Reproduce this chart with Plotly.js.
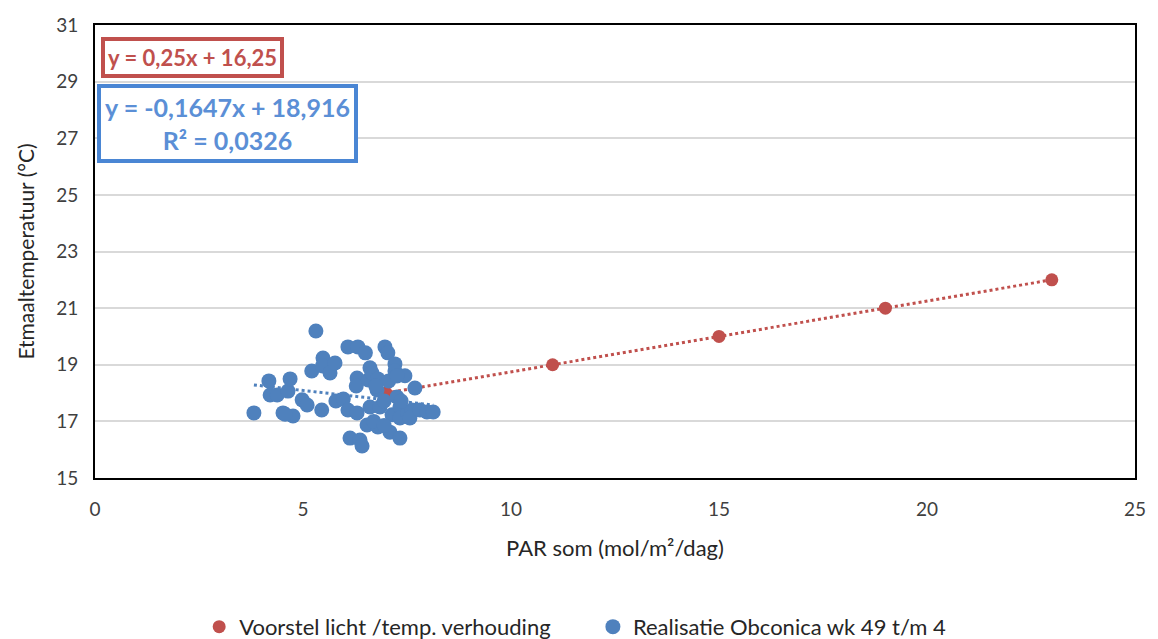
<!DOCTYPE html>
<html>
<head>
<meta charset="utf-8">
<script src="https://cdn.plot.ly/plotly-3.0.1.min.js"></script>
<style>html,body{margin:0;padding:0;background:#fff;}#chart{width:1158px;height:639px;}</style>
</head>
<body>
<div id="chart"></div>
<script>
// Voorstel licht/temp. verhouding
const voorstelX = [7, 11, 15, 19, 23];
const voorstelY = [18, 19, 20, 21, 22];

// Realisatie Obconica wk 49 t/m 4
const realX = [3.82, 4.18, 4.21, 4.38, 4.52, 4.64, 4.69, 4.76, 4.57, 4.98, 5.10, 5.21, 5.31, 5.48, 5.45, 5.47, 5.65, 5.77, 5.79, 5.97, 6.08, 6.08, 6.13, 6.30, 6.32, 6.30, 6.28, 6.37, 6.42, 6.50, 6.57, 6.61, 6.54, 6.61, 6.66, 6.78, 6.80, 6.85, 6.80, 6.95, 6.97, 7.04, 7.06, 7.09, 7.14, 7.21, 7.21, 7.26, 7.33, 7.33, 7.33, 7.45, 7.52, 7.62, 7.69, 7.57, 7.81, 7.98, 8.13, 6.75, 6.70, 7.36, 7.26, 6.95];
const realY = [17.30, 18.43, 17.93, 17.93, 17.30, 18.07, 18.50, 17.19, 17.25, 17.76, 17.58, 18.78, 20.19, 19.24, 17.40, 18.96, 18.71, 19.06, 17.72, 17.79, 19.63, 17.40, 16.41, 18.53, 19.63, 17.30, 18.25, 16.34, 16.13, 19.42, 18.46, 17.51, 16.87, 18.89, 18.71, 18.11, 18.50, 17.51, 16.80, 17.72, 19.63, 19.42, 18.43, 16.62, 17.23, 19.03, 18.78, 17.86, 16.41, 17.51, 17.12, 18.61, 17.30, 17.40, 18.18, 17.12, 17.40, 17.33, 17.33, 18.25, 17.00, 17.72, 18.60, 16.85];

const blueSlope = -0.1647, blueIntercept = 18.916;
const xMin = Math.min(...realX), xMax = Math.max(...realX);

const red = '#c0504d', blue = '#4f81bd';
const font = 'Lato, "Open Sans", sans-serif';

const traces = [
  {x: voorstelX, y: voorstelY, type: 'scatter', mode: 'lines', showlegend: false, hoverinfo: 'skip',
   line: {color: red, width: 3, dash: 'dot'}},
  {x: [xMin, xMax], y: [blueSlope*xMin + blueIntercept, blueSlope*xMax + blueIntercept], type: 'scatter', mode: 'lines',
   showlegend: false, hoverinfo: 'skip', line: {color: blue, width: 3, dash: 'dot'}},
  {x: voorstelX, y: voorstelY, type: 'scatter', mode: 'markers', name: 'Voorstel licht /temp. verhouding',
   marker: {color: red, size: 13}, legend: 'legend'},
  {x: realX, y: realY, type: 'scatter', mode: 'markers', name: 'Realisatie Obconica wk 49 t/m 4',
   marker: {color: blue, size: 15}, legend: 'legend2'}
];

const legendCommon = {orientation: 'h', yref: 'container', xref: 'container', y: 0.019, yanchor: 'middle', xanchor: 'left',
  font: {size: 22, color: '#262626'}, itemwidth: 30, bgcolor: 'rgba(0,0,0,0)'};

const layout = {
  width: 1158, height: 639,
  margin: {l: 95, r: 23, t: 25, b: 161, autoexpand: false},
  paper_bgcolor: '#fff', plot_bgcolor: '#fff',
  font: {family: font, color: '#404040', size: 19},
  xaxis: {range: [0, 25], dtick: 5, tick0: 0, showgrid: false, zeroline: false, automargin: false,
          showline: true, mirror: true, linecolor: '#000', linewidth: 2, ticks: '', ticklabelstandoff: 13,
          tickfont: {size: 19, color: '#404040'},
          title: {text: 'PAR som (mol/m²/dag)', font: {size: 22, color: '#262626'}, standoff: 22}},
  yaxis: {range: [15, 31], dtick: 2, tick0: 15, showgrid: true, gridcolor: '#d9d9d9', gridwidth: 2, zeroline: false, automargin: false,
          showline: true, mirror: true, linecolor: '#000', linewidth: 2, ticks: '', ticklabelstandoff: 11,
          tickfont: {size: 19, color: '#404040'},
          title: {text: 'Etmaaltemperatuur (°C)', font: {size: 21, color: '#262626'}, standoff: 16}},
  showlegend: true,
  legend: Object.assign({}, legendCommon, {x: 0.172}),
  legend2: Object.assign({}, legendCommon, {x: 0.512}),
  annotations: [
    {xref: 'paper', yref: 'paper', x: 0.006, y: 0.974, xanchor: 'left', yanchor: 'top', showarrow: false,
     text: '<b>y = 0,25x + 16,25</b>', font: {size: 22, color: red}, bgcolor: '#fff',
     bordercolor: red, borderwidth: 4, borderpad: 3},
    {xref: 'paper', yref: 'paper', x: 0.002, y: 0.870, xanchor: 'left', yanchor: 'top', showarrow: false,
     text: '<b>y = -0,1647x + 18,916</b><br><b>R² = 0,0326</b>', align: 'center',
     font: {size: 25, color: '#5b8fd6'}, bgcolor: '#fff',
     bordercolor: '#4a86d4', borderwidth: 4, borderpad: 4}
  ]
};

Plotly.newPlot('chart', traces, layout, {displayModeBar: false, staticPlot: true});
</script>
</body>
</html>
